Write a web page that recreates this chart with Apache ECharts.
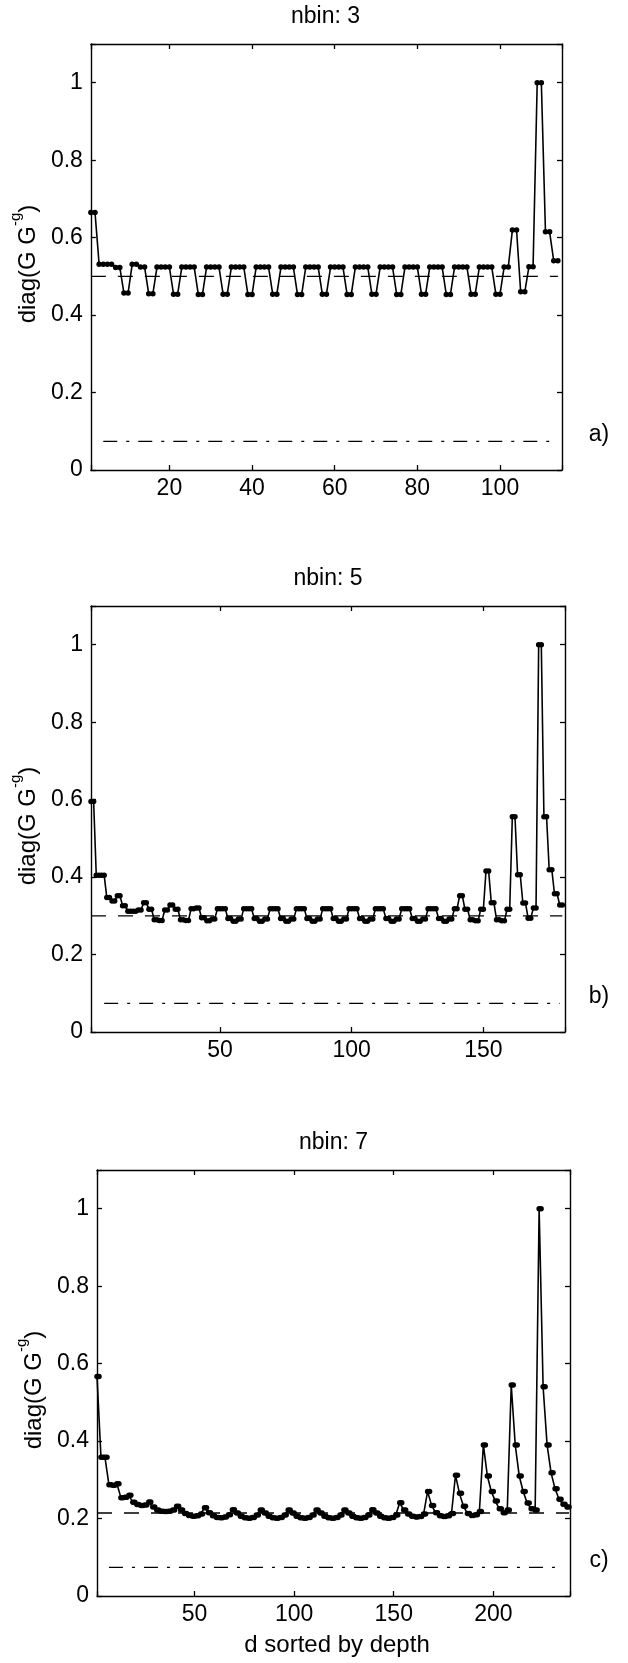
<!DOCTYPE html>
<html><head><meta charset="utf-8">
<script src="https://cdn.jsdelivr.net/npm/echarts@6/dist/echarts.min.js"></script>
<style>html,body{margin:0;padding:0;background:#fff}#c{width:628px;height:1663px}</style>
</head><body><div id="c"></div><script>
// ---- data ----
const valuesA = [
0.665,0.665,0.531,0.531,0.531,0.531,0.523,0.523,0.457,0.457,
0.531,0.531,0.524,0.524,0.455,0.455,
0.524,0.524,0.524,0.524,0.454,0.454,
0.524,0.524,0.524,0.524,0.453,0.453,
0.524,0.524,0.524,0.524,0.454,0.454,
0.524,0.524,0.524,0.524,0.453,0.453,
0.524,0.524,0.524,0.524,0.454,0.454,
0.524,0.524,0.524,0.524,0.453,0.453,
0.524,0.524,0.524,0.524,0.454,0.454,
0.524,0.524,0.524,0.524,0.453,0.453,
0.524,0.524,0.524,0.524,0.454,0.454,
0.524,0.524,0.524,0.524,0.453,0.453,
0.524,0.524,0.524,0.524,0.454,0.454,
0.524,0.524,0.524,0.524,0.453,0.453,
0.524,0.524,0.524,0.524,0.454,0.454,
0.524,0.524,0.524,0.524,0.454,0.454,
0.524,0.524,0.62,0.62,0.46,0.46,0.525,0.525,1,1,0.615,0.615,0.54,0.54
];
const valuesB = [
0.595,0.595,0.405,0.405,0.405,0.405,0.347,0.347,0.338,0.338,
0.352,0.352,0.326,0.326,0.312,0.312,0.312,0.312,0.315,0.315,
0.334,0.334,0.317,0.317,0.29,0.29,0.288,0.288,0.315,0.315,
0.328,0.328,0.317,0.317,0.29,0.29,0.288,0.288,0.318,0.318,
0.32,0.32,0.295,0.295,0.287,0.287,0.292,0.292,
0.318,0.318,0.318,0.318,0.293,0.293,0.286,0.286,0.292,0.292,
0.318,0.318,0.318,0.318,0.293,0.293,0.286,0.286,0.292,0.292,
0.318,0.318,0.318,0.318,0.293,0.293,0.286,0.286,0.292,0.292,
0.318,0.318,0.318,0.318,0.293,0.293,0.286,0.286,0.292,0.292,
0.318,0.318,0.318,0.318,0.293,0.293,0.286,0.286,0.292,0.292,
0.318,0.318,0.318,0.318,0.293,0.293,0.286,0.286,0.292,0.292,
0.318,0.318,0.318,0.318,0.293,0.293,0.286,0.286,0.292,0.292,
0.318,0.318,0.318,0.318,0.293,0.293,0.286,0.286,0.292,0.292,
0.318,0.318,0.318,0.318,0.293,0.293,0.286,0.286,0.292,0.292,
0.318,0.318,0.352,0.352,0.317,0.317,0.29,0.29,0.287,0.287,
0.317,0.317,0.416,0.416,0.334,0.334,0.29,0.29,0.287,0.287,
0.317,0.317,0.556,0.556,0.406,0.406,0.333,0.333,0.294,0.294,
0.32,0.32,1,1,0.556,0.556,0.419,0.419,0.357,0.357,0.328,0.328
];
const valuesC = [
0.567,0.567,0.358,0.358,0.358,0.358,0.287,0.287,0.286,0.286,
0.29,0.29,0.254,0.254,0.255,0.255,0.26,0.26,0.242,0.242,
0.236,0.236,0.234,0.234,0.235,0.235,0.243,0.243,0.23,0.23,
0.222,0.222,0.219,0.219,0.218,0.218,0.219,0.219,0.222,0.222,
0.232,0.232,0.222,0.222,0.213,0.213,0.208,0.208,0.206,0.206,
0.207,0.207,0.212,0.212,0.228,0.228,0.215,0.215,0.207,0.207,
0.203,0.203,0.202,0.202,0.204,0.204,0.21,0.21,0.223,0.223,
0.214,0.214,0.206,0.206,0.202,0.202,0.201,0.201,0.203,0.203,0.209,0.209,0.222,0.222,
0.214,0.214,0.206,0.206,0.202,0.202,0.201,0.201,0.203,0.203,0.209,0.209,0.222,0.222,
0.214,0.214,0.206,0.206,0.202,0.202,0.201,0.201,0.203,0.203,0.209,0.209,0.222,0.222,
0.214,0.214,0.206,0.206,0.202,0.202,0.201,0.201,0.203,0.203,0.209,0.209,0.222,0.222,
0.214,0.214,0.206,0.206,0.202,0.202,0.201,0.201,0.203,0.203,0.209,0.209,0.223,0.223,
0.214,0.214,0.206,0.206,0.202,0.202,0.201,0.201,0.203,0.203,0.209,0.209,0.241,0.241,
0.222,0.222,0.212,0.212,0.206,0.206,0.204,0.204,0.205,0.205,0.212,0.212,0.27,0.27,
0.234,0.234,0.215,0.215,0.207,0.207,0.205,0.205,0.207,0.207,0.213,0.213,0.312,0.312,
0.265,0.265,0.232,0.232,0.213,0.213,0.208,0.208,0.21,0.21,0.218,0.218,0.39,0.39,
0.31,0.31,0.27,0.27,0.245,0.245,0.225,0.225,0.215,0.215,0.222,0.222,0.545,0.545,
0.39,0.39,0.31,0.31,0.27,0.27,0.24,0.24,0.225,0.225,0.222,0.222,1,1,
0.54,0.54,0.39,0.39,0.318,0.318,0.277,0.277,0.25,0.25,0.237,0.237,0.23,0.23
];
const panelTitles = ['nbin: 3', 'nbin: 5', 'nbin: 7'];
const panelTags = ['a)', 'b)', 'c)'];
const refLevels = [0.5, 0.3, 0.2143];     // dashed lines
const floorLevel = 0.074;                  // dash-dot lines
const floorStart = [4, 6, 7];
const floorEnd = [113, 179, 234];
const xMaxes = [115, 181, 238.5];
const xSteps = [20, 50, 50];
const yLabelText = 'diag(G G';
const ySupText = '-g';
const xLabelText = 'd sorted by depth';

// ---- layout ----
const FONT = '"Liberation Sans", Arial, Helvetica, sans-serif';
const FS = 23;
const grids = [
  {left: 89, top: 44, width: 473, height: 426},
  {left: 91, top: 606, width: 474, height: 426},
  {left: 97, top: 1170, width: 473, height: 426}
];
const allValues = [valuesA, valuesB, valuesC];

const xAxes = [], yAxes = [], series = [], graphics = [];
const lineCol = '#000';
grids.forEach((g, i) => {
  const step = xSteps[i];
  const baseX = {
    gridIndex: i, type: 'value', min: 1, max: xMaxes[i],
    minInterval: step, maxInterval: step,
    axisLine: {show: true, onZero: false, lineStyle: {color: lineCol, width: 1.4}},
    axisTick: {show: true, inside: true, length: 5, lineStyle: {color: lineCol, width: 1.3}},
    splitLine: {show: false}
  };
  xAxes.push(Object.assign({}, baseX, {
    position: 'bottom',
    axisLabel: {show: true, margin: 7, color: '#000', fontSize: FS, fontFamily: FONT,
      formatter: v => (Math.abs(v % step) < 1e-9 ? String(v) : '')}
  }));
  xAxes.push(Object.assign({}, baseX, {position: 'top', axisLabel: {show: false}}));
  const baseY = {
    gridIndex: i, type: 'value', min: 0, max: 1.1, interval: 0.2,
    axisLine: {show: true, onZero: false, lineStyle: {color: lineCol, width: 1.4}},
    axisTick: {show: true, inside: true, length: 5, lineStyle: {color: lineCol, width: 1.3}},
    splitLine: {show: false}
  };
  yAxes.push(Object.assign({}, baseY, {
    position: 'left',
    axisLabel: {show: true, margin: 8, color: '#000', fontSize: FS, fontFamily: FONT,
      formatter: v => (v > 1.05 ? '' : String(Math.round(v * 10) / 10))},
    name: '{t|' + yLabelText + '}{s|' + ySupText + '}{t|)}',
    nameLocation: 'middle', nameGap: 47, nameRotate: 90,
    nameTextStyle: {padding: [0, 14, 0, 0], rich: {
      t: {fontSize: 24, fontFamily: FONT, color: '#000', lineHeight: 32, verticalAlign: 'bottom'},
      s: {fontSize: 15, fontFamily: FONT, color: '#000', lineHeight: 15, verticalAlign: 'top'}
    }}
  }));
  yAxes.push(Object.assign({}, baseY, {position: 'right', axisLabel: {show: false}}));

  const vals = allValues[i];
  series.push({
    type: 'line', xAxisIndex: 2 * i, yAxisIndex: 2 * i, z: 1, silent: true,
    symbol: 'none', data: [[1, refLevels[i]], [vals.length, refLevels[i]]],
    lineStyle: {color: '#000', width: 1.3, type: [15, 12]}
  });
  series.push({
    type: 'line', xAxisIndex: 2 * i, yAxisIndex: 2 * i, z: 1, silent: true,
    symbol: 'none', data: [[floorStart[i], floorLevel], [floorEnd[i], floorLevel]],
    lineStyle: {color: '#000', width: 1.3, type: [14, 9, 3, 9]}
  });
  series.push({
    type: 'line', xAxisIndex: 2 * i, yAxisIndex: 2 * i, z: 3,
    data: vals.map((v, k) => [k + 1, v]),
    symbol: 'circle', symbolSize: 5.5, showSymbol: true,
    itemStyle: {color: '#000'},
    lineStyle: {color: '#000', width: 1.6}
  });

  graphics.push({type: 'text', x: g.left + g.width / 2, y: g.top - 27,
    style: {text: panelTitles[i], fill: '#000', font: FS + 'px ' + FONT, textAlign: 'center', textVerticalAlign: 'middle'}});
  graphics.push({type: 'text', x: 599, y: g.top + g.height - 35,
    style: {text: panelTags[i], fill: '#000', font: FS + 'px ' + FONT, textAlign: 'center', textVerticalAlign: 'middle'}});
});
graphics.push({type: 'text', x: 337, y: 1645,
  style: {text: xLabelText, fill: '#000', font: '24px ' + FONT, textAlign: 'center', textVerticalAlign: 'middle'}});

const chart = echarts.init(document.getElementById('c'), null, {renderer: 'canvas'});
chart.setOption({
  animation: false,
  backgroundColor: '#fff',
  grid: grids,
  xAxis: xAxes,
  yAxis: yAxes,
  series: series,
  graphic: graphics
});
</script></body></html>
